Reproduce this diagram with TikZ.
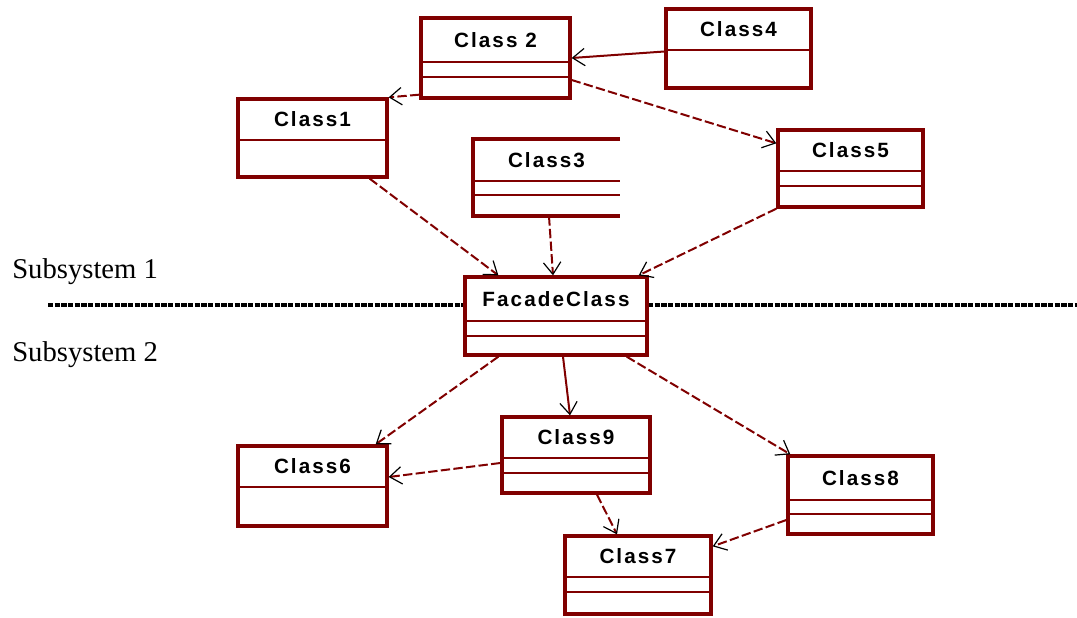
\documentclass[tikz,border=0pt]{standalone}
\usepackage{fontspec}
\setmainfont{Liberation Serif}
\newfontfamily\clsfont[LetterSpace=10]{Liberation Sans}
\usetikzlibrary{arrows.meta,calc,fit}
\definecolor{umlred}{RGB}{128,0,0}
\tikzset{
  clsbox/.style={draw=umlred,line width=2.5pt,fill=white,inner sep=0pt},
  clsopen/.style={inner sep=0pt},
  clsname/.style={font=\clsfont\bfseries\fontsize{15.5}{18}\selectfont,text=black,inner sep=0pt},
  clsdiv/.style={draw=umlred,line width=1.8pt},
  subsys/.style={font=\fontsize{21.5}{24}\selectfont,anchor=west,inner sep=0pt},
  sepline/.style={black,line width=2.6pt,dash pattern=on 4pt off 1pt},
  arrhead/.style={-{Straight Barb[black,length=9pt,width=13pt,line width=0.9pt]}},
  usearr/.style={arrhead,umlred,line width=1.5pt},
  deparr/.style={usearr,dash pattern=on 7pt off 2.5pt}
}

\begin{document}
\begin{tikzpicture}[x=0.75pt,y=-0.75pt]
  \useasboundingbox (0,0) rectangle (1077,617);

  % subsystem separator
  \coordinate (sepL) at (48,305);
  \coordinate (sepR) at (1077,305);
  \draw[sepline] (sepL) -- (sepR);
  \node[subsys] (sub1) at (12,272) {Subsystem 1};
  \node[subsys] (sub2) at (12,355) {Subsystem 2};

  % subsystem 1
  \node[clsbox,fit={(421,18) (570,98)}] (c2) {};
  \node[clsname] (c2n) at (495.5,40) {Class 2};
  \foreach \y in {62,77} \draw[clsdiv] (421,\y) -- (570,\y);

  \node[clsbox,fit={(666,9) (811,88)}] (c4) {};
  \node[clsname] (c4n) at (738.5,29.5) {Class4};
  \draw[clsdiv] (666,50) -- (811,50);

  \node[clsbox,fit={(238,99) (387,177)}] (c1) {};
  \node[clsname] (c1n) at (312.5,119.5) {Class1};
  \draw[clsdiv] (238,140) -- (387,140);

  \node[clsopen,fit={(473,139) (620,216)}] (c3) {};
  \draw[clsdiv,line width=2.5pt] (620,139) -| (473,216) -- (620,216);
  \node[clsname] (c3n) at (546.5,160) {Class3};
  \foreach \y in {181,195} \draw[clsdiv] (473,\y) -- (620,\y);

  \node[clsbox,fit={(778,130) (923,207)}] (c5) {};
  \node[clsname] (c5n) at (850.5,150.5) {Class5};
  \foreach \y in {171,186} \draw[clsdiv] (778,\y) -- (923,\y);

  % facade
  \node[clsbox,fit={(465,277) (647,355)}] (fc) {};
  \node[clsname] (fcn) at (556,299) {FacadeClass};
  \foreach \y in {321,336} \draw[clsdiv] (465,\y) -- (647,\y);

  % subsystem 2
  \node[clsbox,fit={(238,446) (387,526)}] (c6) {};
  \node[clsname] (c6n) at (312.5,466.5) {Class6};
  \draw[clsdiv] (238,487) -- (387,487);

  \node[clsbox,fit={(502,417) (650,493)}] (c9) {};
  \node[clsname] (c9n) at (576,437.5) {Class9};
  \foreach \y in {458,473} \draw[clsdiv] (502,\y) -- (650,\y);

  \node[clsbox,fit={(788,456) (933,534)}] (c8) {};
  \node[clsname] (c8n) at (860.5,478) {Class8};
  \foreach \y in {500,514} \draw[clsdiv] (788,\y) -- (933,\y);

  \node[clsbox,fit={(565,536) (711,614)}] (c7) {};
  \node[clsname] (c7n) at (638,556.5) {Class7};
  \foreach \y in {577,592} \draw[clsdiv] (565,\y) -- (711,\y);

  % dependencies
  \draw[usearr] ($(c4.west)+(0,3)$) -- (c2.east);
  \draw[deparr] ($(c2.south west)+(0,-5)$) -- (c1.north east);
  \draw[deparr] ($(c2.east)+(0,22)$) -- ($(c5.north west)+(0,15)$);
  \draw[deparr] ($(c1.south east)+(-19,0)$) -- ($(fc.north west)+(35,0)$);
  \draw[deparr] ($(c3.south)+(2.5,0)$) -- ($(fc.north)+(-3,0)$);
  \draw[deparr] (c5.south west) -- ($(fc.north east)+(-10,0)$);
  \draw[deparr] ($(fc.south west)+(35,0)$) -- ($(c6.north east)+(-13,0)$);
  \draw[usearr] ($(fc.south)+(7,0)$) -- ($(c9.north)+(-6,0)$);
  \draw[deparr] ($(fc.south east)+(-22,0)$) -- ($(c8.north west)+(4,0)$);
  \draw[deparr] ($(c9.west)+(0,8)$) -- ($(c6.east)+(0,-9)$);
  \draw[deparr] ($(c9.south)+(21,0)$) -- ($(c7.north)+(-21,0)$);
  \draw[deparr] ($(c8.west)+(0,25)$) -- ($(c7.north east)+(0,12)$);
\end{tikzpicture}
\end{document}
